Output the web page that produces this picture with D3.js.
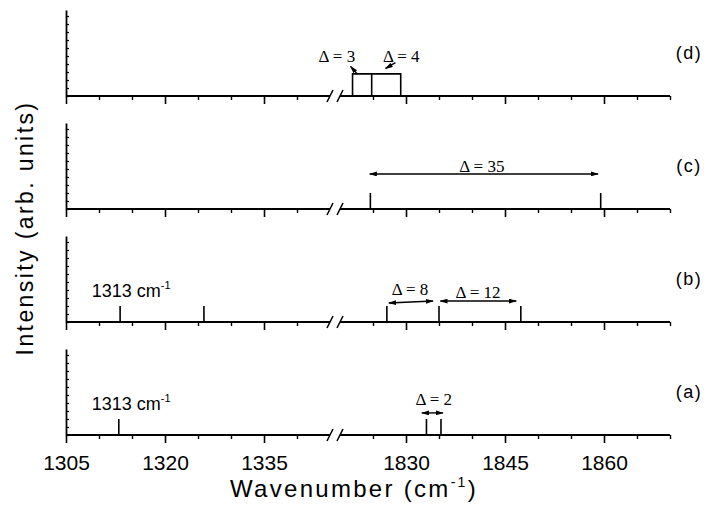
<!DOCTYPE html>
<html>
<head>
<meta charset="utf-8">
<script src="https://cdn.jsdelivr.net/npm/d3@7"></script>
<style>
  body { margin: 0; background: #fff; }
  text { font-family: "Liberation Sans", Arial, sans-serif; fill: #000; }
</style>
</head>
<body>
<div class="canvas"></div>
<script>
// ---- data ----
const panelNames = ["(a)", "(b)", "(c)", "(d)"];
const peaksA = [1313, 1833.1, 1835.3];
const peaksB = [1313.2, 1325.9, 1827.1, 1835, 1847.4];
const peaksC = [1824.6, 1859.5];
const peaksD = [1821.9, 1824.8, 1829.2];
const peakHeight = 1;

const majorTicks = [1305, 1320, 1335, 1830, 1845, 1860];
const minorTicks = [1310, 1315, 1325, 1330, 1340, 1825, 1835, 1840, 1850, 1855, 1865, 1870];
const leftRange = [1305, 1345];
const rightRange = [1820, 1870];

// double arrows between peaks (wavenumber / intensity units)
const arrowsA = [{ x1: 1832.4, x2: 1835.6, y1: 1.38, y2: 1.38 }];
const arrowsB = [{ x1: 1827.4, x2: 1834.1, y1: 1.19, y2: 1.31 },
                 { x1: 1835.2, x2: 1846.7, y1: 1.31, y2: 1.31 }];
const arrowsC = [{ x1: 1824.5, x2: 1859.1, y1: 2.19, y2: 2.19 }];

const labelsA = [{ text: "Δ = 2", x: 1834.2, y: 1.88, anchor: "middle" }];
const labelsB = [{ text: "Δ = 8", x: 1830.6, y: 1.69, anchor: "middle" },
                 { text: "Δ = 12", x: 1840.9, y: 1.5, anchor: "middle" }];
const labelsC = [{ text: "Δ = 35", x: 1841.5, y: 2.31, anchor: "middle" }];
const labelsD = [{ text: "Δ = 3", x: 1822.3, y: 2.13, anchor: "end" },
                 { text: "Δ = 4", x: 1826.5, y: 2.13, anchor: "start" }];

// panel (d): bracket across the three peaks, plus two pointers
const bracketD = 1.38;
const pointersD = [{ x1: 1822.6, y1: 1.38, x2: 1821.6, y2: 1.85, head: "end" },
                   { x1: 1826.9, y1: 1.72, x2: 1828.4, y2: 2.08, head: "start" }];

const refLabel = { x: 1308.9, y: 1.56 };

const panels = [
  { name: panelNames[0], peaks: peaksA, arrows: arrowsA, labels: labelsA, ref: true },
  { name: panelNames[1], peaks: peaksB, arrows: arrowsB, labels: labelsB, ref: true },
  { name: panelNames[2], peaks: peaksC, arrows: arrowsC, labels: labelsC, ref: false },
  { name: panelNames[3], peaks: peaksD, arrows: [], labels: labelsD, ref: false }
];

// ---- layout ----
const W = 707, H = 508;
const x0 = 66, xBreakL = 330, xBreakR = 340, x1 = 670;
const panelH = 86, firstBase = 96, step = 113;
const serif = '"Liberation Serif", "Times New Roman", "DejaVu Serif", serif';

const x = d3.scaleLinear()
  .domain([leftRange[0], leftRange[1], rightRange[0], rightRange[1]])
  .range([x0, xBreakL, xBreakR, x1]);

const svg = d3.select(".canvas").append("svg")
  .attr("width", W).attr("height", H);

const defs = svg.append("defs");
defs.append("marker")
  .attr("id", "head")
  .attr("markerUnits", "userSpaceOnUse")
  .attr("viewBox", "0 0 10 6")
  .attr("refX", 9).attr("refY", 3)
  .attr("markerWidth", 8).attr("markerHeight", 5)
  .attr("orient", "auto-start-reverse")
  .append("path").attr("d", "M0,0 L10,3 L0,6 Z").attr("fill", "#000");

panels.forEach((p, i) => {
  const base = firstBase + (3 - i) * step;
  const y = d3.scaleLinear().domain([0, panelH / 16]).range([base, base - panelH]);
  const g = svg.append("g");

  // x axis: major + minor ticks, domain drawn in two pieces
  const gx = g.append("g").attr("transform", `translate(0,${base})`);
  gx.append("g")
    .call(d3.axisBottom(x).tickValues(majorTicks).tickSize(8).tickSizeOuter(0)
      .tickFormat(i === 0 ? d3.format("d") : ""))
    .call(a => a.select(".domain").remove())
    .call(a => a.selectAll(".tick line").attr("stroke-width", 1.6))
    .call(a => a.selectAll(".tick text")
      .attr("y", 35).attr("dy", null)
      .style("font-size", "21px")
      .style("font-family", '"Liberation Sans", Arial, sans-serif'));
  gx.append("g")
    .call(d3.axisBottom(x).tickValues(minorTicks).tickSize(4).tickSizeOuter(0).tickFormat(""))
    .call(a => a.select(".domain").remove())
    .call(a => a.selectAll(".tick line").attr("stroke-width", 1.4));

  gx.selectAll(".seg")
    .data([leftRange, rightRange])
    .join("line")
    .attr("x1", d => x(d[0])).attr("x2", d => x(d[1]))
    .attr("y1", 0).attr("y2", 0)
    .attr("stroke", "#000").attr("stroke-width", 1.8);

  // break marks
  gx.selectAll(".brk")
    .data([xBreakL, xBreakR])
    .join("line")
    .attr("x1", d => d - 3).attr("x2", d => d + 3)
    .attr("y1", 6).attr("y2", -6)
    .attr("stroke", "#000").attr("stroke-width", 1.6);

  // y axis with small inside ticks
  g.append("g")
    .attr("transform", `translate(${x0},0)`)
    .call(d3.axisRight(y).ticks(10).tickSize(3).tickSizeOuter(0).tickFormat(""))
    .call(a => a.select(".domain").attr("stroke-width", 1.8))
    .call(a => a.selectAll(".tick line").attr("stroke-width", 1.2));

  // sticks
  g.selectAll(".peak")
    .data(p.peaks)
    .join("line")
    .attr("x1", d => x(d)).attr("x2", d => x(d))
    .attr("y1", y(0)).attr("y2", y(peakHeight))
    .attr("stroke", "#000").attr("stroke-width", 1.6);

  // double arrows
  g.selectAll(".arr")
    .data(p.arrows)
    .join("line")
    .attr("x1", d => x(d.x1)).attr("x2", d => x(d.x2))
    .attr("y1", d => y(d.y1)).attr("y2", d => y(d.y2))
    .attr("stroke", "#000").attr("stroke-width", 1.4)
    .attr("marker-start", "url(#head)")
    .attr("marker-end", "url(#head)");

  // Δ labels
  g.selectAll(".dl")
    .data(p.labels)
    .join("text")
    .attr("x", d => x(d.x)).attr("y", d => y(d.y))
    .attr("text-anchor", d => d.anchor)
    .style("font-family", serif)
    .style("font-size", "17px")
    .text(d => d.text);

  // 1313 cm-1 reference label
  if (p.ref) {
    const t = g.append("text")
      .attr("x", x(refLabel.x)).attr("y", y(refLabel.y))
      .style("font-size", "18px");
    t.append("tspan").text("1313 cm");
    t.append("tspan").attr("dy", -8).style("font-size", "11px").text("-1");
  }

  // panel name
  g.append("text")
    .attr("x", 689).attr("y", y(panelH / 16 * 0.5))
    .attr("text-anchor", "middle")
    .attr("dy", "0.35em")
    .style("font-size", "18px")
    .style("letter-spacing", "1.5px")
    .text(p.name);

  // panel (d) bracket and pointers
  if (i === 3) {
    const pk = p.peaks;
    const path = d3.path();
    path.moveTo(x(pk[0]), y(peakHeight));
    path.lineTo(x(pk[0]), y(bracketD));
    path.lineTo(x(pk[2]), y(bracketD));
    path.lineTo(x(pk[2]), y(peakHeight));
    path.moveTo(x(pk[1]), y(peakHeight));
    path.lineTo(x(pk[1]), y(bracketD));
    g.append("path").attr("d", path.toString())
      .attr("fill", "none").attr("stroke", "#000").attr("stroke-width", 1.6);

    g.selectAll(".ptr")
      .data(pointersD)
      .join("line")
      .attr("x1", d => x(d.x1)).attr("x2", d => x(d.x2))
      .attr("y1", d => y(d.y1)).attr("y2", d => y(d.y2))
      .attr("stroke", "#000").attr("stroke-width", 1.4)
      .attr("marker-start", d => d.head === "start" ? "url(#head)" : null)
      .attr("marker-end", d => d.head === "end" ? "url(#head)" : null);
  }
});

// axis titles
const xt = svg.append("text")
  .attr("x", 354).attr("y", 497)
  .attr("text-anchor", "middle")
  .style("font-size", "24px")
  .style("letter-spacing", "2.3px");
xt.append("tspan").text("Wavenumber (cm");
xt.append("tspan").attr("dy", -10).style("font-size", "14px").text("-1");
xt.append("tspan").attr("dy", 10).text(")");

svg.append("text")
  .attr("transform", "translate(33,228) rotate(-90)")
  .attr("text-anchor", "middle")
  .style("font-size", "23px")
  .style("letter-spacing", "2.4px")
  .text("Intensity (arb. units)");
</script>
</body>
</html>
